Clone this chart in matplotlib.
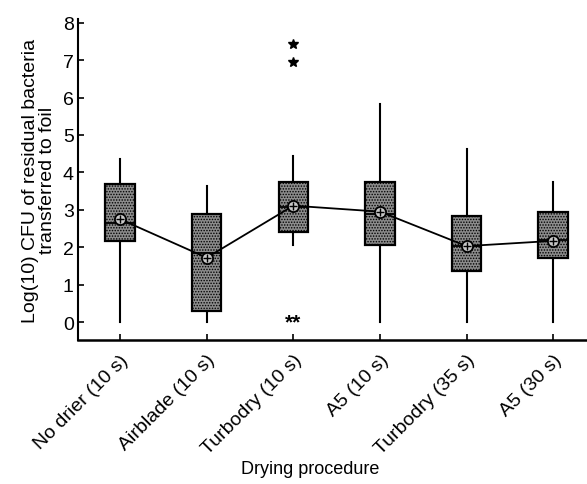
import matplotlib.pyplot as plt
import numpy as np

plt.rcParams['font.family'] = ['Liberation Sans', 'DejaVu Sans']
plt.rcParams['hatch.color'] = '#2e2e2e'
plt.rcParams['hatch.linewidth'] = 0.7

# drying procedures and box statistics (log10 CFU)
procedures = ['No drier (10 s)', 'Airblade (10 s)', 'Turbodry (10 s)',
              'A5 (10 s)', 'Turbodry (35 s)', 'A5 (30 s)']
whisker_low = [0.0, 0.0, 2.06, 0.0, 0.0, 0.0]
q1 = [2.17, 0.30, 2.41, 2.06, 1.37, 1.71]
median = [2.65, 1.85, 3.07, 2.89, 2.03, 2.20]
q3 = [3.69, 2.89, 3.75, 3.75, 2.83, 2.95]
whisker_high = [4.36, 3.64, 4.44, 5.83, 4.63, 3.74]
mean = [2.75, 1.72, 3.11, 2.95, 2.03, 2.17]

# outliers (Turbodry 10 s)
outlier_pos = 3
outlier_values = [7.43, 6.95]
zero_outliers_label = '**'

stats = []
for i in range(len(procedures)):
    stats.append(dict(whislo=whisker_low[i], q1=q1[i], med=median[i],
                      q3=q3[i], whishi=whisker_high[i], fliers=[]))

fig = plt.figure(figsize=(5.87, 4.85), dpi=100)
ax = fig.add_axes([0.1329, 0.2969, 0.8671, 0.6619])

pos = np.arange(1, len(procedures) + 1)
bp = ax.bxp(stats, positions=pos, widths=0.34, patch_artist=True,
            showcaps=False, showfliers=False,
            boxprops=dict(facecolor='#8c8c8c', edgecolor='black', linewidth=1.6, hatch='......'),
            whiskerprops=dict(color='black', linewidth=1.5),
            medianprops=dict(color='black', linewidth=1.3))
for b in bp['boxes']:
    b.set_zorder(2)

# means joined by a line
ax.plot(pos, mean, color='black', lw=1.3, zorder=3)
ax.plot(pos, mean, 'o', ms=8, mfc='#c8c8c8', mec='black', mew=1.3, zorder=4)
ax.plot(pos, mean, '+', ms=6, color='black', mew=1.0, zorder=5)

ax.plot([outlier_pos] * len(outlier_values), outlier_values, '*', color='black', ms=7, zorder=4)
ax.text(outlier_pos, 0, zero_outliers_label, ha='center', va='center', fontsize=15, fontweight='bold')

ax.set_xlim(0.515, 6.39)
ax.set_ylim(-0.48, 8.1)
ax.set_yticks(range(0, 9))
ax.set_xticks(pos)
ax.set_xticklabels(procedures, rotation=45, ha='right', rotation_mode='anchor', fontsize=13.5)
ax.tick_params(axis='both', direction='in', length=4, width=1.2, labelsize=14)
ax.tick_params(axis='x', pad=8)
ax.tick_params(axis='y', pad=3)
for s in ['top', 'right']:
    ax.spines[s].set_visible(False)
ax.spines['left'].set_linewidth(1.5)
ax.spines['bottom'].set_linewidth(1.8)

ax.set_ylabel('Log(10) CFU of residual bacteria\ntransferred to foil', fontsize=14, linespacing=1.0, labelpad=5)
ax.set_xlabel('Drying procedure', fontsize=13)
ax.xaxis.set_label_coords(0.456, -0.375)

fig.savefig('out.png', dpi=100)
